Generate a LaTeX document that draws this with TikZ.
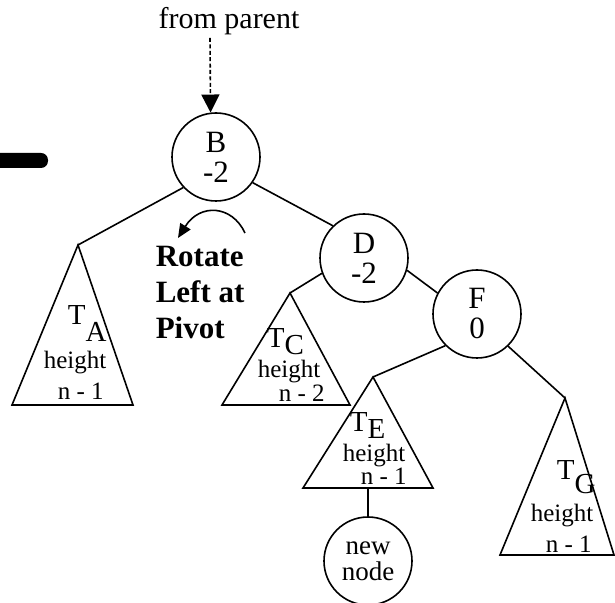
\documentclass[tikz,border=0pt]{standalone}
\usepackage{fontspec}
\setmainfont{Liberation Serif}
\usetikzlibrary{arrows.meta}
\tikzset{
    vertex/.style={circle,draw=black,line width=0.8pt,minimum size=44pt,inner sep=0,align=center,font=\fontsize{15.5}{15}\selectfont},
    small/.style={inner sep=0,anchor=base west,font=\fontsize{12.5}{12.5}\selectfont},
    tname/.style={inner sep=0,anchor=base west,font=\fontsize{14.5}{14.5}\selectfont}
}
\newcommand{\Tsub}[2]{T\raisebox{-#2}{#1}}

\begin{document}
\begin{tikzpicture}[x=0.5pt,y=-0.5pt,line width=0.8pt]
    \useasboundingbox (0,0) rectangle (615,603);
    % scanner mark
    \fill (0,153) [rounded corners=3.5pt] -- (48,153) -- (48,168) [sharp corners] -- (0,168) -- cycle;

    \node[anchor=base,inner sep=0,font=\fontsize{15}{15}\selectfont] (parent) at (229,29) {from parent};
    \node[vertex] (B) at (216,157) {B\\-2};
    \node[vertex] (D) at (364,258) {D\\-2};
    \node[vertex] (F) at (477,314) {F\\0};
    \node[vertex,font=\fontsize{13.5}{13}\selectfont] (new) at (368,561) {new\\node};

    % subtrees
    \coordinate (TAtop) at (78,245);
    \draw (TAtop) -- (12,405) -- (133,405) -- cycle;
    \node[tname] (TA) at (67,325) {\Tsub{A}{8.5pt}};
    \node[small] (TAh) at (43,369) {height};
    \node[small] (TAn) at (57,400) {n - 1};

    \coordinate (TCtop) at (290,293);
    \draw (TCtop) -- (222,405) -- (350,405) -- cycle;
    \node[tname] (TC) at (266,348) {\Tsub{C}{3.5pt}};
    \node[small] (TCh) at (257,378) {height};
    \node[small] (TCn) at (278,402) {n - 2};

    \coordinate (TEtop) at (373,377);
    \coordinate (TEbot) at (368,488);
    \draw (TEtop) -- (303,488) -- (433,488) -- cycle;
    \node[tname] (TE) at (349,432) {\Tsub{E}{3pt}};
    \node[small] (TEh) at (342,461) {height};
    \node[small] (TEn) at (360,485) {n - 1};

    \coordinate (TGtop) at (565,398);
    \draw (TGtop) -- (500,555) -- (614,555) -- cycle;
    \node[tname] (TG) at (556,480) {\Tsub{G}{7pt}};
    \node[small] (TGh) at (530,521) {height};
    \node[small] (TGn) at (545,552) {n - 1};

    % edges
    \draw (B.223) -- (TAtop);
    \draw (B.325) -- (D.134);
    \draw (D.200) -- (TCtop);
    \draw (D.344) -- (F.152);
    \draw (F.225) -- (TEtop);
    \draw (F.314) -- (TGtop);
    \draw (TEbot) -- (new);

    \coordinate (src) at (210,38);
    \draw[dash pattern=on 2pt off 1.2pt,-{Triangle[length=9pt,width=9pt]}] (src) -- (B.97);

    % rotation
    \coordinate (rotS) at (245,233);
    \coordinate (rotE) at (178,238);
    \draw[-{Triangle[length=7pt,width=6pt]}] (rotS) .. controls (232,205) and (200,203) .. (rotE);
    \node[anchor=west,align=left,inner sep=0,font=\fontsize{15.5}{18}\selectfont\bfseries] (rot) at (155,293) {Rotate\\Left at\\Pivot};
\end{tikzpicture}
\end{document}
